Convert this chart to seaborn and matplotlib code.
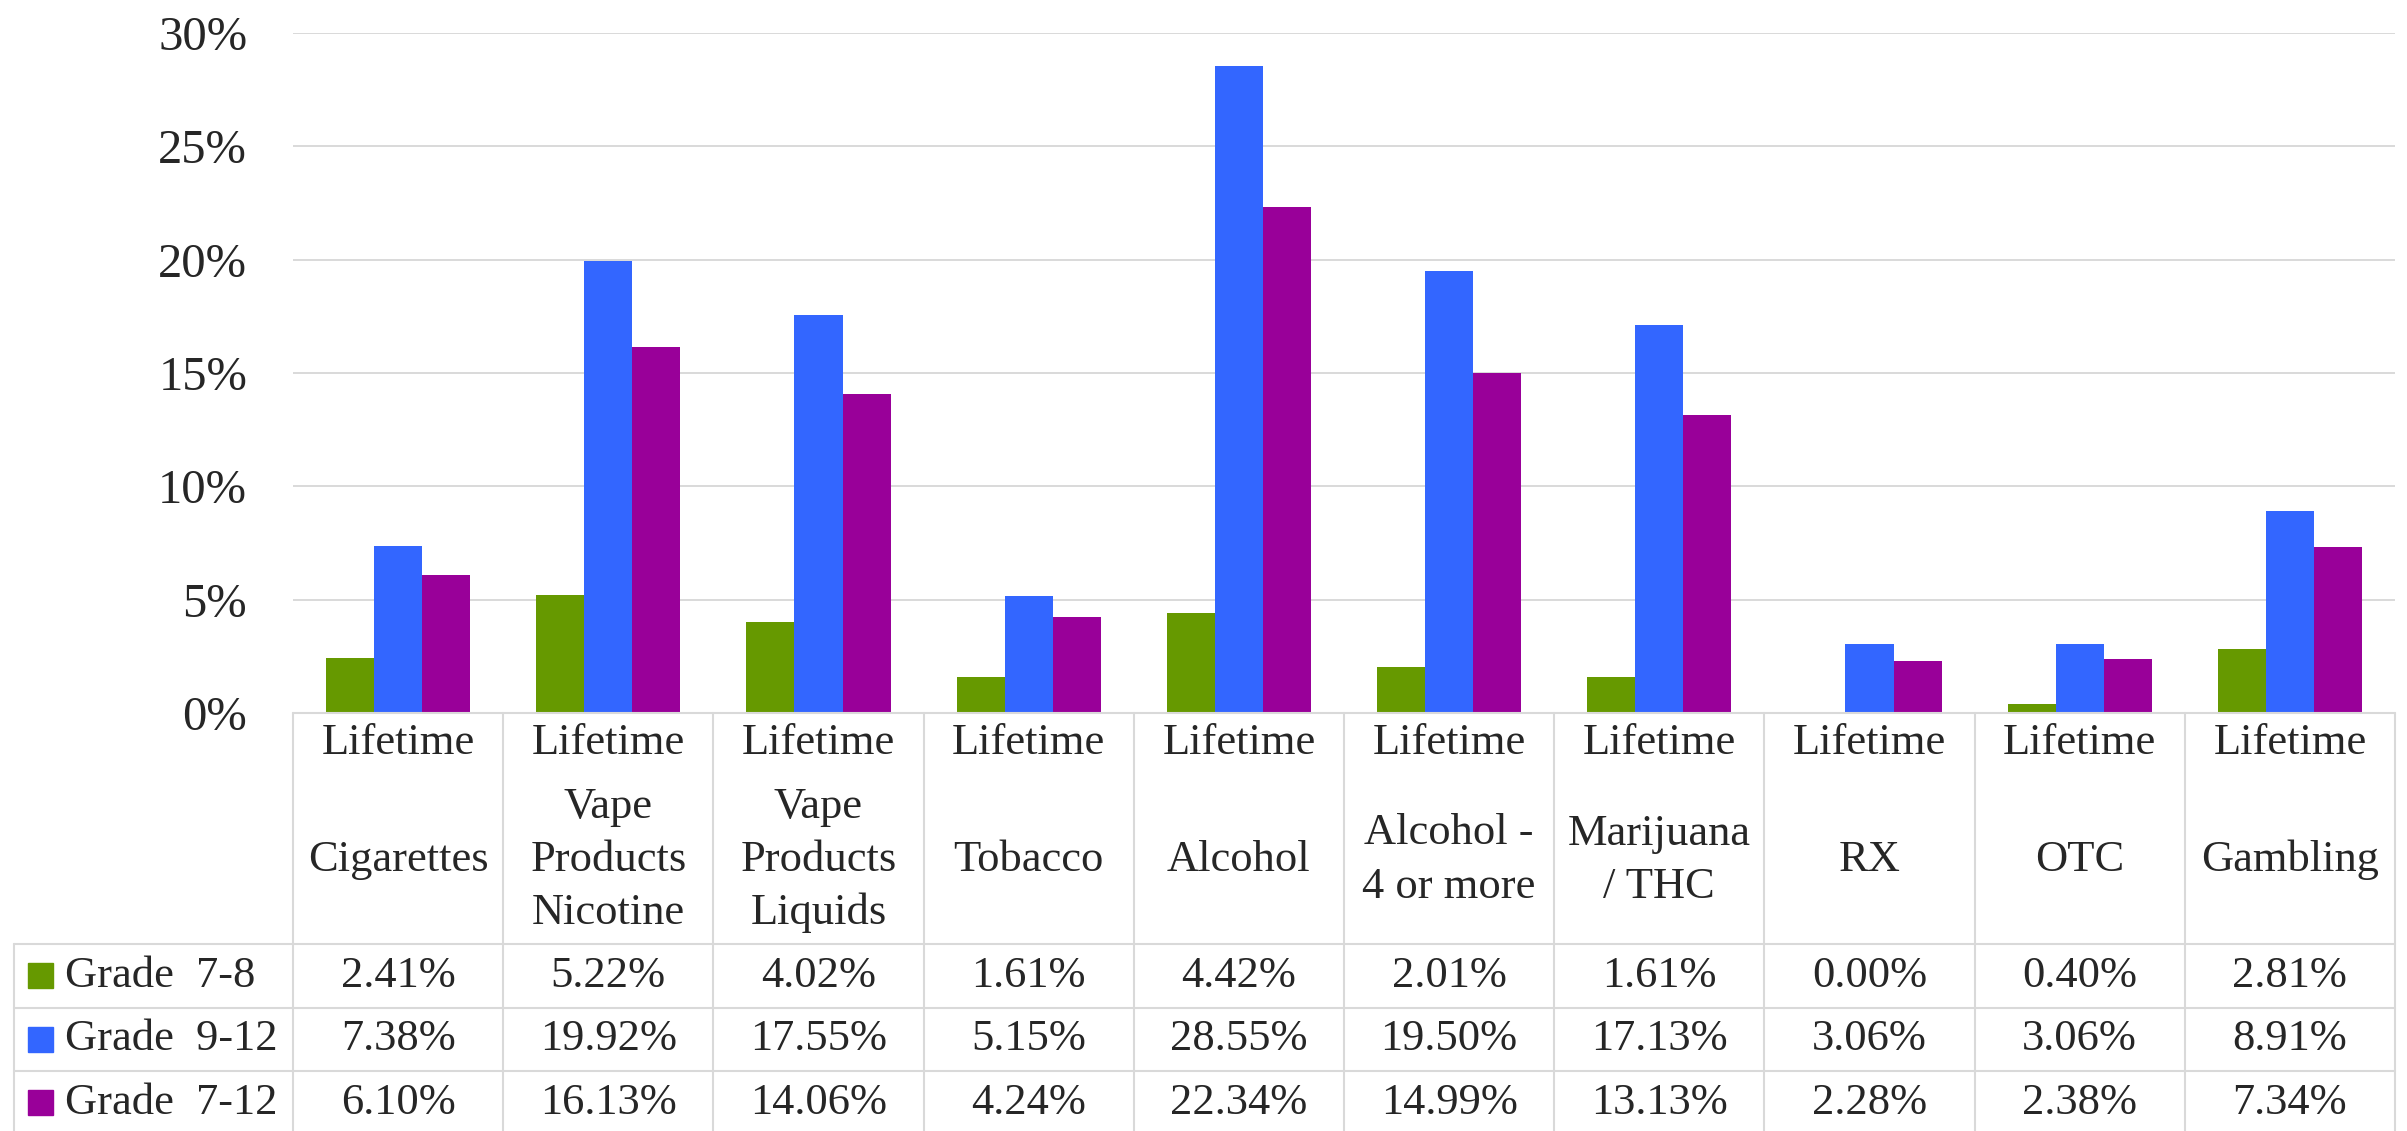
import numpy as np
import pandas as pd
import matplotlib
matplotlib.use('Agg')
import matplotlib.pyplot as plt
import seaborn as sb

categories = ['Cigarettes', 'Vape Products Nicotine', 'Vape Products Liquids', 'Tobacco', 'Alcohol',
              'Alcohol - 4 or more', 'Marijuana / THC', 'RX', 'OTC', 'Gambling']
header_lines = [['Cigarettes'], ['Vape', 'Products', 'Nicotine'], ['Vape', 'Products', 'Liquids'],
                ['Tobacco'], ['Alcohol'], ['Alcohol -', '4 or more'], ['Marijuana', '/ THC'],
                ['RX'], ['OTC'], ['Gambling']]
grades = ['Grade  7-8', 'Grade  9-12', 'Grade  7-12']
grade_7_8 = [2.41, 5.22, 4.02, 1.61, 4.42, 2.01, 1.61, 0.00, 0.40, 2.81]
grade_9_12 = [7.38, 19.92, 17.55, 5.15, 28.55, 19.50, 17.13, 3.06, 3.06, 8.91]
grade_7_12 = [6.10, 16.13, 14.06, 4.24, 22.34, 14.99, 13.13, 2.28, 2.38, 7.34]
yticks = [0, 5, 10, 15, 20, 25, 30]
colors = ['#669900', '#3366FF', '#990099']

rows = [grade_7_8, grade_9_12, grade_7_12]
df = pd.DataFrame({
    'category': np.tile(categories, 3),
    'grade': np.repeat(grades, len(categories)),
    'value': np.concatenate(rows),
})

sb.set_style('white')
plt.rcParams['font.family'] = ['Liberation Serif', 'DejaVu Serif']

W, H = 2407, 1131
fig = plt.figure(figsize=(W / 100, H / 100), dpi=100)
left, right, top, base = 293, 2395, 33, 713
ax = fig.add_axes([left / W, 1 - base / H, (right - left) / W, (base - top) / H])

sb.barplot(data=df, x='category', y='value', hue='grade', order=categories, hue_order=grades,
           palette=colors, saturation=1, width=0.686, gap=0, linewidth=0, legend=False, ax=ax)
ax.set_xlim(-0.5, len(categories) - 0.5)
ax.set_ylim(0, 30)
ax.set_yticks(yticks)
ax.set_yticklabels([f'{t}%' for t in yticks], fontsize=35)
ax.tick_params(axis='y', length=0, pad=33)
ax.set_xticks([])
ax.set_xlabel('')
ax.set_ylabel('')
ax.grid(axis='y', color='#d9d9d9', lw=1.4)
ax.set_axisbelow(True)
for s in ax.spines.values():
    s.set_visible(False)

# data table under the plot, y in pixels below the baseline
tab = fig.add_axes([left / W, 0, (right - left) / W, 1 - base / H])
tab.set_xlim(-0.5, len(categories) - 0.5)
tab.set_ylim(H - base, 0)
tab.axis('off')
unit = (right - left) / len(categories)
x_leg = -0.5 - (left - 14) / unit
lc = '#d9d9d9'
lw = 1.5
head_h, row_h = 231, 63.5
fs = 32

tab.plot([-0.5, len(categories) - 0.5], [0, 0], color=lc, lw=lw, clip_on=False)
for i in range(len(categories) + 1):
    tab.plot([i - 0.5, i - 0.5], [0, H - base + 5], color=lc, lw=lw, clip_on=False)
tab.plot([x_leg, x_leg], [head_h, H - base + 5], color=lc, lw=lw, clip_on=False)
for r in range(3):
    y = head_h + r * row_h
    tab.plot([x_leg, len(categories) - 0.5], [y, y], color=lc, lw=lw, clip_on=False)

for i, lines in enumerate(header_lines):
    tab.text(i, 30, 'Lifetime', ha='center', va='center', fontsize=fs)
    n = len(lines)
    for k, line in enumerate(lines):
        tab.text(i, 147 + (k - (n - 1) / 2) * 53, line, ha='center', va='center', fontsize=fs)

for r, (g, vals) in enumerate(zip(grades, rows)):
    yc = head_h + (r + 0.5) * row_h
    tab.add_patch(plt.Rectangle((x_leg + 14 / unit, yc - 12.5), 25 / unit, 25, color=colors[r],
                                clip_on=False))
    tab.text(x_leg + 51 / unit, yc, g, ha='left', va='center', fontsize=fs, clip_on=False)
    for i, v in enumerate(vals):
        tab.text(i, yc, f'{v:.2f}%', ha='center', va='center', fontsize=fs)

fig.savefig('out.png', dpi=100)
